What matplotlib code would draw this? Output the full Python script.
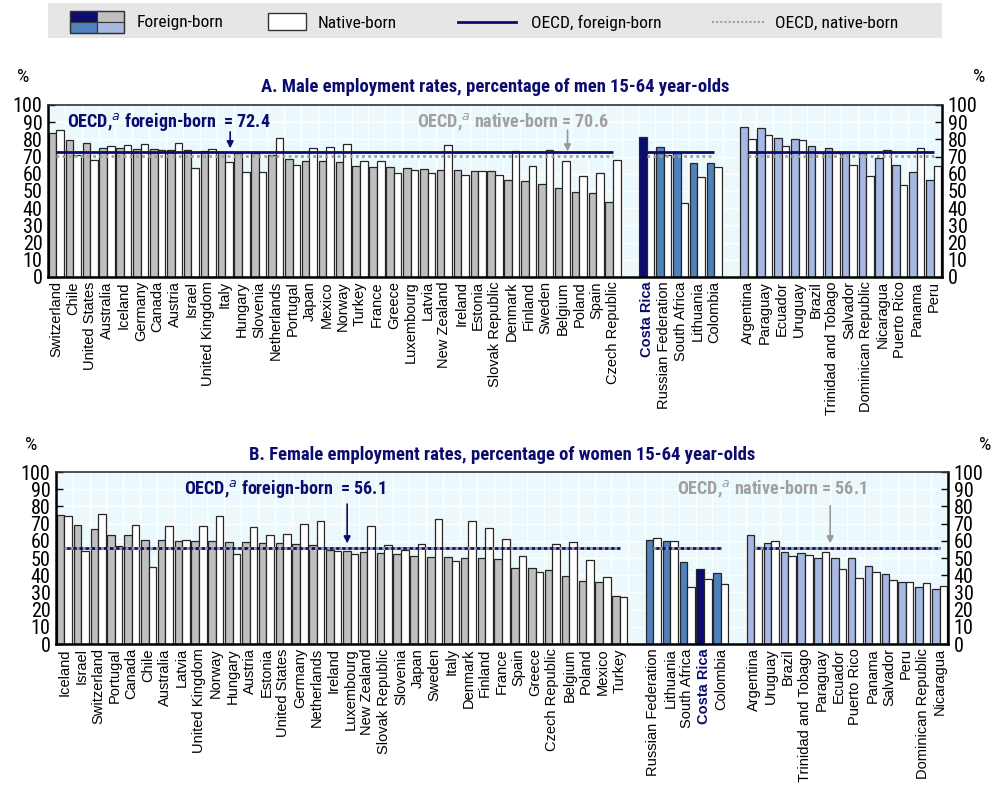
import os
import numpy as np
import matplotlib
matplotlib.use("Agg")
import matplotlib.pyplot as plt
from matplotlib import font_manager as fm
from matplotlib.patches import Rectangle
from matplotlib.lines import Line2D

plt.rcParams['font.family'] = ['Liberation Sans', 'DejaVu Sans']


def narrow_font(bold=False):
    """Pick a condensed sans face from the installed fonts, if there is one."""
    prefs = ['liberationsansnarrow', 'robotocondensed', 'opensanscondensed',
             'dejavusanscondensed', 'notosanscondensed']
    files = [f.fname for f in fm.fontManager.ttflist]
    for p in prefs:
        for fn in files:
            base = os.path.basename(fn).lower().replace('-', '').replace('_', '')
            if not base.startswith(p):
                continue
            if 'italic' in base or 'oblique' in base:
                continue
            rest = base[len(p):]
            if bold and rest.startswith('bold') and 'semi' not in rest and 'extra' not in rest:
                return fm.FontProperties(fname=fn)
            if not bold and (rest.startswith('regular') or rest.startswith('.ttf')):
                return fm.FontProperties(fname=fn)
    return fm.FontProperties(family='Roboto', weight='bold' if bold else 'normal')


NARROW = narrow_font(False)
NARROW_B = narrow_font(True)


def fp(base, size):
    f = base.copy()
    f.set_size(size)
    return f


NAVY = '#0c0c6e'
GREY_BAR = '#bfbfbf'
STEEL = '#4f81bd'
LIGHT = '#a7b8e2'
AX_BG = '#ebf9fd'
OECD_GREY = '#a0a0a0'

# ---------------- Panel A: men ----------------
a_oecd = ["Switzerland", "Chile", "United States", "Australia", "Iceland", "Germany",
          "Canada", "Austria", "Israel", "United Kingdom", "Italy", "Hungary", "Slovenia",
          "Netherlands", "Portugal", "Japan", "Mexico", "Norway", "Turkey", "France",
          "Greece", "Luxembourg", "Latvia", "New Zealand", "Ireland", "Estonia",
          "Slovak Republic", "Denmark", "Finland", "Sweden", "Belgium", "Poland", "Spain",
          "Czech Republic"]
a_oecd_foreign = [83.5, 79.6, 78.0, 74.8, 74.8, 74.4, 74.4, 74.0, 73.6, 73.4, 72.4, 71.8,
                  71.8, 70.9, 68.7, 67.6, 67.6, 67.0, 64.7, 63.7, 63.7, 63.3, 62.9, 62.1,
                  62.1, 61.7, 61.4, 56.5, 55.7, 53.8, 52.0, 49.5, 48.7, 43.7]
a_oecd_native = [85.4, 71.0, 68.3, 76.1, 76.5, 77.1, 73.8, 77.9, 63.1, 74.6, 67.0, 61.0,
                 61.0, 81.0, 64.9, 75.1, 75.3, 77.1, 67.6, 67.4, 60.2, 62.1, 60.4, 76.7,
                 59.4, 61.9, 59.4, 73.2, 64.3, 74.0, 67.4, 59.0, 60.6, 68.0]
a_mid = ["Costa Rica", "Russian Federation", "South Africa", "Lithuania", "Colombia"]
a_mid_foreign = [81.6, 75.7, 72.8, 66.0, 66.0]
a_mid_native = [72.8, 70.9, 43.1, 58.3, 63.7]
a_lat = ["Argentina", "Paraguay", "Ecuador", "Uruguay", "Brazil", "Trinidad and Tobago",
         "Salvador", "Dominican Republic", "Nicaragua", "Puerto Rico", "Panama", "Peru"]
a_lat_foreign = [87.4, 86.8, 80.6, 80.4, 75.9, 74.8, 71.8, 71.8, 68.9, 64.9, 60.8, 56.3]
a_lat_native = [80.2, 82.5, 76.3, 79.4, 72.0, 72.0, 64.9, 58.6, 73.8, 53.6, 75.1, 64.5]
a_avg_foreign = 72.4
a_avg_native = 70.6

# ---------------- Panel B: women ----------------
b_oecd = ["Iceland", "Israel", "Switzerland", "Portugal", "Canada", "Chile", "Australia",
          "Latvia", "United Kingdom", "Norway", "Hungary", "Austria", "Estonia",
          "United States", "Germany", "Netherlands", "Ireland", "Luxembourg", "New Zealand",
          "Slovak Republic", "Slovenia", "Japan", "Sweden", "Italy", "Denmark", "Finland",
          "France", "Spain", "Greece", "Czech Republic", "Belgium", "Poland", "Mexico",
          "Turkey"]
b_oecd_foreign = [75.2, 69.0, 67.1, 63.3, 63.1, 60.6, 60.6, 60.0, 59.8, 59.8, 59.6, 59.6,
                  59.0, 58.8, 57.9, 57.7, 54.8, 54.0, 53.7, 53.1, 52.1, 51.3, 50.8, 50.4,
                  50.2, 49.8, 49.4, 44.4, 44.0, 43.3, 39.6, 36.7, 36.3, 27.7]
b_oecd_native = [74.6, 54.0, 75.6, 56.9, 69.0, 44.8, 68.5, 60.4, 68.5, 74.6, 52.5, 68.0,
                 63.1, 64.0, 69.8, 71.7, 54.0, 52.1, 68.5, 57.5, 54.6, 58.3, 72.9, 48.5,
                 71.5, 67.3, 61.2, 51.3, 41.9, 58.1, 59.6, 48.8, 38.7, 27.3]
b_mid = ["Russian Federation", "Lithuania", "South Africa", "Costa Rica", "Colombia"]
b_mid_foreign = [60.2, 59.8, 47.5, 43.7, 41.2]
b_mid_native = [61.7, 59.8, 33.3, 37.9, 34.8]
b_lat = ["Argentina", "Uruguay", "Brazil", "Trinidad and Tobago", "Paraguay", "Ecuador",
         "Puerto Rico", "Panama", "Salvador", "Peru", "Dominican Republic", "Nicaragua"]
b_lat_foreign = [63.1, 59.0, 53.7, 53.1, 50.2, 49.8, 49.8, 45.2, 40.6, 35.8, 33.0, 32.1]
b_lat_native = [56.3, 59.8, 51.2, 51.7, 53.7, 43.5, 38.3, 41.7, 37.1, 36.0, 35.6, 33.5]
b_avg_foreign = 56.1
b_avg_native = 56.1

yticks = list(range(0, 101, 10))

fig = plt.figure(figsize=(10, 7.9), dpi=100)


def panel(rect, title, groups, avg_f, avg_n, ann_f, ann_n):
    ax = fig.add_axes(rect)
    ax.set_facecolor(AX_BG)
    names, xs, fvals, nvals, fcols = [], [], [], [], []
    pos = 0
    spans = []
    for g_names, g_f, g_n, col in groups:
        start = pos
        for n, f, v in zip(g_names, g_f, g_n):
            names.append(n)
            xs.append(pos)
            fvals.append(f)
            nvals.append(v)
            fcols.append(NAVY if n == "Costa Rica" else col)
            pos += 1
        spans.append((start, pos - 1))
        pos += 1
    nslots = pos - 1
    xs = np.array(xs, dtype=float)
    w = 0.45
    # background grid
    for b in np.arange(-0.5, nslots + 0.5, 1.0):
        ax.axvline(b, color='white', lw=1.0, zorder=0)
    for t in yticks[1:-1]:
        ax.axhline(t, color='white', lw=1.0, zorder=0)
    ax.bar(xs - w / 2, fvals, w, color=fcols, edgecolor='#262626', linewidth=0.9, zorder=2)
    ax.bar(xs + w / 2, nvals, w, color='white', edgecolor='#262626', linewidth=0.9, zorder=2)
    for s, e in spans:
        ax.plot([s, e], [avg_f, avg_f], color=NAVY, lw=2.0, zorder=3, solid_capstyle='butt')
        ax.plot([s, e], [avg_n, avg_n], color=OECD_GREY, lw=2.0, ls=(0, (1, 1.2)), zorder=4)
    ax.set_xlim(-0.5, nslots - 0.5)
    ax.set_ylim(0, 100)
    ax.set_yticks(yticks)
    ax.set_yticklabels([str(t) for t in yticks])
    ax.tick_params(axis='y', direction='in', length=5, width=1, left=True, right=True,
                   labelleft=True, labelright=True, pad=4)
    for t in ax.yaxis.get_major_ticks():
        t.label1.set_fontproperties(fp(NARROW, 14.5))
        t.label2.set_fontproperties(fp(NARROW, 14.5))
    ax.set_xticks(xs)
    ax.set_xticklabels(names, rotation=90, fontsize=10.5, va='top', ha='center')
    ax.tick_params(axis='x', length=0, pad=3)
    for lab in ax.get_xticklabels():
        if lab.get_text() == "Costa Rica":
            lab.set_color(NAVY)
            lab.set_fontweight('bold')
    for side in ['left', 'right', 'bottom']:
        ax.spines[side].set_linewidth(1.8)
        ax.spines[side].set_color('black')
    ax.spines['top'].set_linewidth(1.2)
    ax.spines['top'].set_color('#333333')
    ax.set_title(title, color=NAVY, fontproperties=fp(NARROW_B, 13.4), pad=9)
    # annotations for OECD averages
    (fx, fty, tx_f), (nx, nty, tx_n) = ann_f, ann_n
    ax.annotate('', xy=(fx, avg_f + 0.8), xytext=(fx, fty),
                arrowprops=dict(arrowstyle='-|>', color=NAVY, lw=1.2, mutation_scale=10),
                zorder=5)
    ax.annotate('', xy=(nx, avg_n + 0.8), xytext=(nx, nty),
                arrowprops=dict(arrowstyle='-|>', color='#999999', lw=1.2, mutation_scale=10),
                zorder=5)
    ax.text(tx_f, 90, r"OECD,$^{\mathit{a}}$ foreign-born  = " + f"{avg_f:.1f}", color=NAVY,
            fontproperties=fp(NARROW_B, 13), ha='left', va='center', zorder=6)
    ax.text(tx_n, 90, r"OECD,$^{\mathit{a}}$ native-born = " + f"{avg_n:.1f}", color='#a0a0a0',
            fontproperties=fp(NARROW_B, 13), ha='left', va='center', zorder=6)
    ax.text(-0.035, 1.16, '%', transform=ax.transAxes, fontproperties=fp(NARROW, 14),
            ha='left', va='center')
    ax.text(1.035, 1.16, '%', transform=ax.transAxes, fontproperties=fp(NARROW, 14),
            ha='left', va='center')
    return ax


axA = panel([0.048, 0.6494, 0.894, 0.2177],
            "A. Male employment rates, percentage of men 15-64 year-olds",
            [(a_oecd, a_oecd_foreign, a_oecd_native, GREY_BAR),
             (a_mid, a_mid_foreign, a_mid_native, STEEL),
             (a_lat, a_lat_foreign, a_lat_native, LIGHT)],
            a_avg_foreign, a_avg_native,
            (10.3, 86, 0.6), (30.3, 87, 21.4))
axB = panel([0.056, 0.1848, 0.892, 0.2177],
            "B. Female employment rates, percentage of women 15-64 year-olds",
            [(b_oecd, b_oecd_foreign, b_oecd_native, GREY_BAR),
             (b_mid, b_mid_foreign, b_mid_native, STEEL),
             (b_lat, b_lat_foreign, b_lat_native, LIGHT)],
            b_avg_foreign, b_avg_native,
            (16.8, 83, 7.1), (45.5, 82, 36.4))

# ---------------- legend strip ----------------
lg = fig.add_axes([0, 0, 1, 1], zorder=-1)
lg.set_xlim(0, 1000)
lg.set_ylim(790, 0)
lg.axis('off')
lg.add_patch(Rectangle((48, 3), 894, 35, facecolor='#e6e6e6', edgecolor='none'))
cw, ch = 27, 11
for (dx, dy), c in zip([(0, 0), (1, 0), (0, 1), (1, 1)], [NAVY, GREY_BAR, STEEL, LIGHT]):
    lg.add_patch(Rectangle((70 + dx * cw, 11 + dy * ch), cw, ch, facecolor=c,
                           edgecolor='#333333', lw=0.8))
lg.add_patch(Rectangle((70, 11), 2 * cw, 2 * ch, facecolor='none', edgecolor='#333333', lw=1))
leg_font = fp(NARROW, 12.5)
lg.text(137, 23, "Foreign-born", fontproperties=leg_font, va='center', ha='left')
lg.add_patch(Rectangle((268, 13), 38, 17, facecolor='white', edgecolor='#333333', lw=1))
lg.text(318, 23, "Native-born", fontproperties=leg_font, va='center', ha='left')
lg.add_line(Line2D([458, 516], [22, 22], color=NAVY, lw=2))
lg.text(531, 23, "OECD, foreign-born", fontproperties=leg_font, va='center', ha='left')
lg.add_line(Line2D([712, 766], [22, 22], color=OECD_GREY, lw=1.5, ls=(0, (1, 1))))
lg.text(775, 23, "OECD, native-born", fontproperties=leg_font, va='center', ha='left')

fig.savefig('out.png', dpi=100, facecolor='white')
